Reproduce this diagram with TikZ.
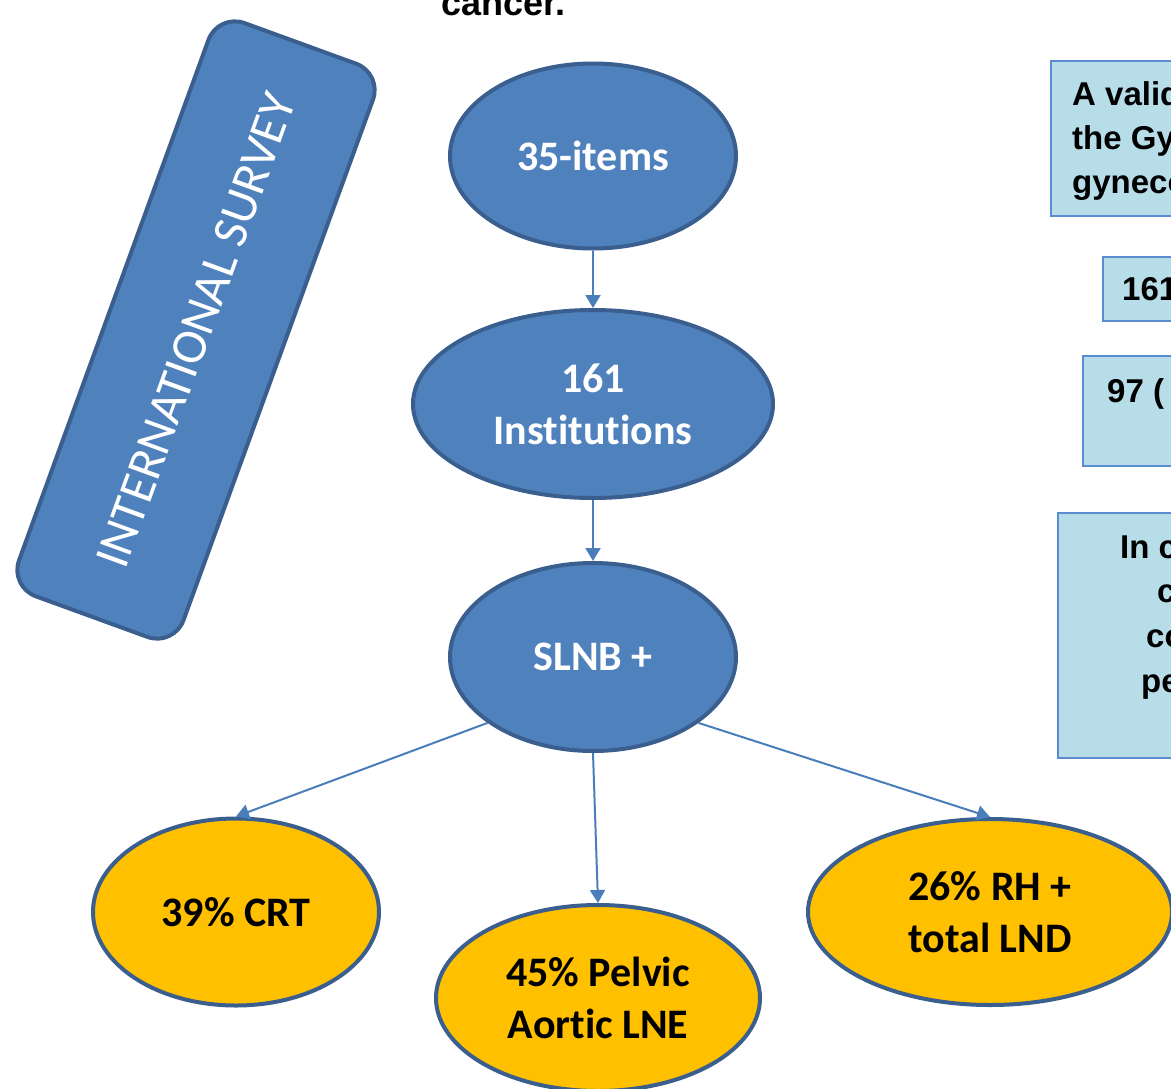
\documentclass[tikz,border=0pt]{standalone}
\usepackage{fontspec}
\setmainfont{Carlito}[RawFeature={-liga,-dlig,-clig}]
\newfontfamily\arialf{Liberation Sans}
\usetikzlibrary{shapes.geometric,arrows.meta}
\definecolor{nodeblue}{HTML}{4F81BD}
\definecolor{edgeblue}{HTML}{3A5F8E}
\definecolor{orangefill}{HTML}{FFC000}
\definecolor{boxfill}{HTML}{B7DDE8}
\definecolor{boxline}{HTML}{5A8CCF}
\definecolor{arrowblue}{HTML}{4A7EBB}
\newcommand{\nolig}{\kern0pt{}}
\tikzset{
  blueell/.style={ellipse, draw=edgeblue, fill=nodeblue, line width=4pt, inner sep=0pt,
    text=white, align=center, font=\fontsize{42}{52}\selectfont\bfseries},
  orangeell/.style={ellipse, draw=edgeblue, fill=orangefill, line width=4pt, inner sep=0pt,
    text=black, align=center, font=\fontsize{42}{52}\selectfont\bfseries},
  surveybox/.style={rectangle, rounded corners=28pt, draw=edgeblue, fill=nodeblue, line width=4pt,
    text=white, font=\fontsize{50}{60}\selectfont, minimum width=610pt, minimum height=175pt},
  infobox/.style={rectangle, draw=boxline, fill=boxfill, line width=2pt, anchor=north west, inner sep=0pt},
  infotext/.style={anchor=base west, inner sep=0pt, font=\arialf\bfseries\fontsize{33}{44}\selectfont},
  flow/.style={draw=arrowblue, line width=2pt, -{Triangle[width=15pt,length=13pt]}}
}
\begin{document}
\begin{tikzpicture}[x=1pt,y=-1pt]
\useasboundingbox (0,0) rectangle (1171,1088);
\fill[white] (0,0) rectangle (1171,1088);

% top cut-off title
\node[infotext, font=\arialf\bfseries\fontsize{36}{44}\selectfont] (title) at (441,15) {cancer.};

% rotated survey box
\node[surveybox, rotate=70] (survey) at (196,330) {INTERNATIONAL SURVEY};

% flow ellipses
\node[blueell, minimum width=286pt, minimum height=185pt] (e1) at (593,156) {35-items};
\node[blueell, minimum width=360pt, minimum height=188pt] (e2) at (593,404) {161\\Inst\nolig itut\nolig ions};
\node[blueell, minimum width=286pt, minimum height=188pt] (e3) at (593,657) {SLNB +};

\node[orangeell, minimum width=286pt, minimum height=187pt] (o1) at (236,912) {39\% CRT};
\node[orangeell, minimum width=324pt, minimum height=186pt] (o2) at (598,998) {45\% Pelvic\\Aort\nolig ic LNE};
\node[orangeell, minimum width=364pt, minimum height=186pt] (o3) at (990,912) {26\% RH +\\total LND};

% connectors
\draw[flow] (e1.south) -- (e2.north);
\draw[flow] (e2.south) -- (e3.north);
\draw[flow] (e3.212) -- (o1.north);
\draw[flow] (e3.south) -- (o2.north);
\draw[flow] (e3.328) -- (o3.north);

% right-hand info boxes (cut off by the picture edge)
\node[infobox, minimum width=200pt, minimum height=155pt] (b1) at (1050,60) {};
\node[infotext] (b1t1) at (1072,105) {A valid};
\node[infotext] (b1t2) at (1072,149) {the Gyn};
\node[infotext] (b1t3) at (1072,193) {gyneco};

\node[infobox, minimum width=150pt, minimum height=64pt] (b2) at (1102,256) {};
\node[infotext] (b2t) at (1122,300) {161};

\node[infobox, minimum width=150pt, minimum height=110pt] (b3) at (1082,355) {};
\node[infotext] (b3t) at (1107,402) {97 (};

\node[infobox, minimum width=200pt, minimum height=245pt] (b4) at (1057,512) {};
\node[infotext] (b4t1) at (1120,558) {In c};
\node[infotext] (b4t2) at (1157,602) {c};
\node[infotext] (b4t3) at (1146,647) {co};
\node[infotext] (b4t4) at (1141,692) {pe};
\end{tikzpicture}
\end{document}
